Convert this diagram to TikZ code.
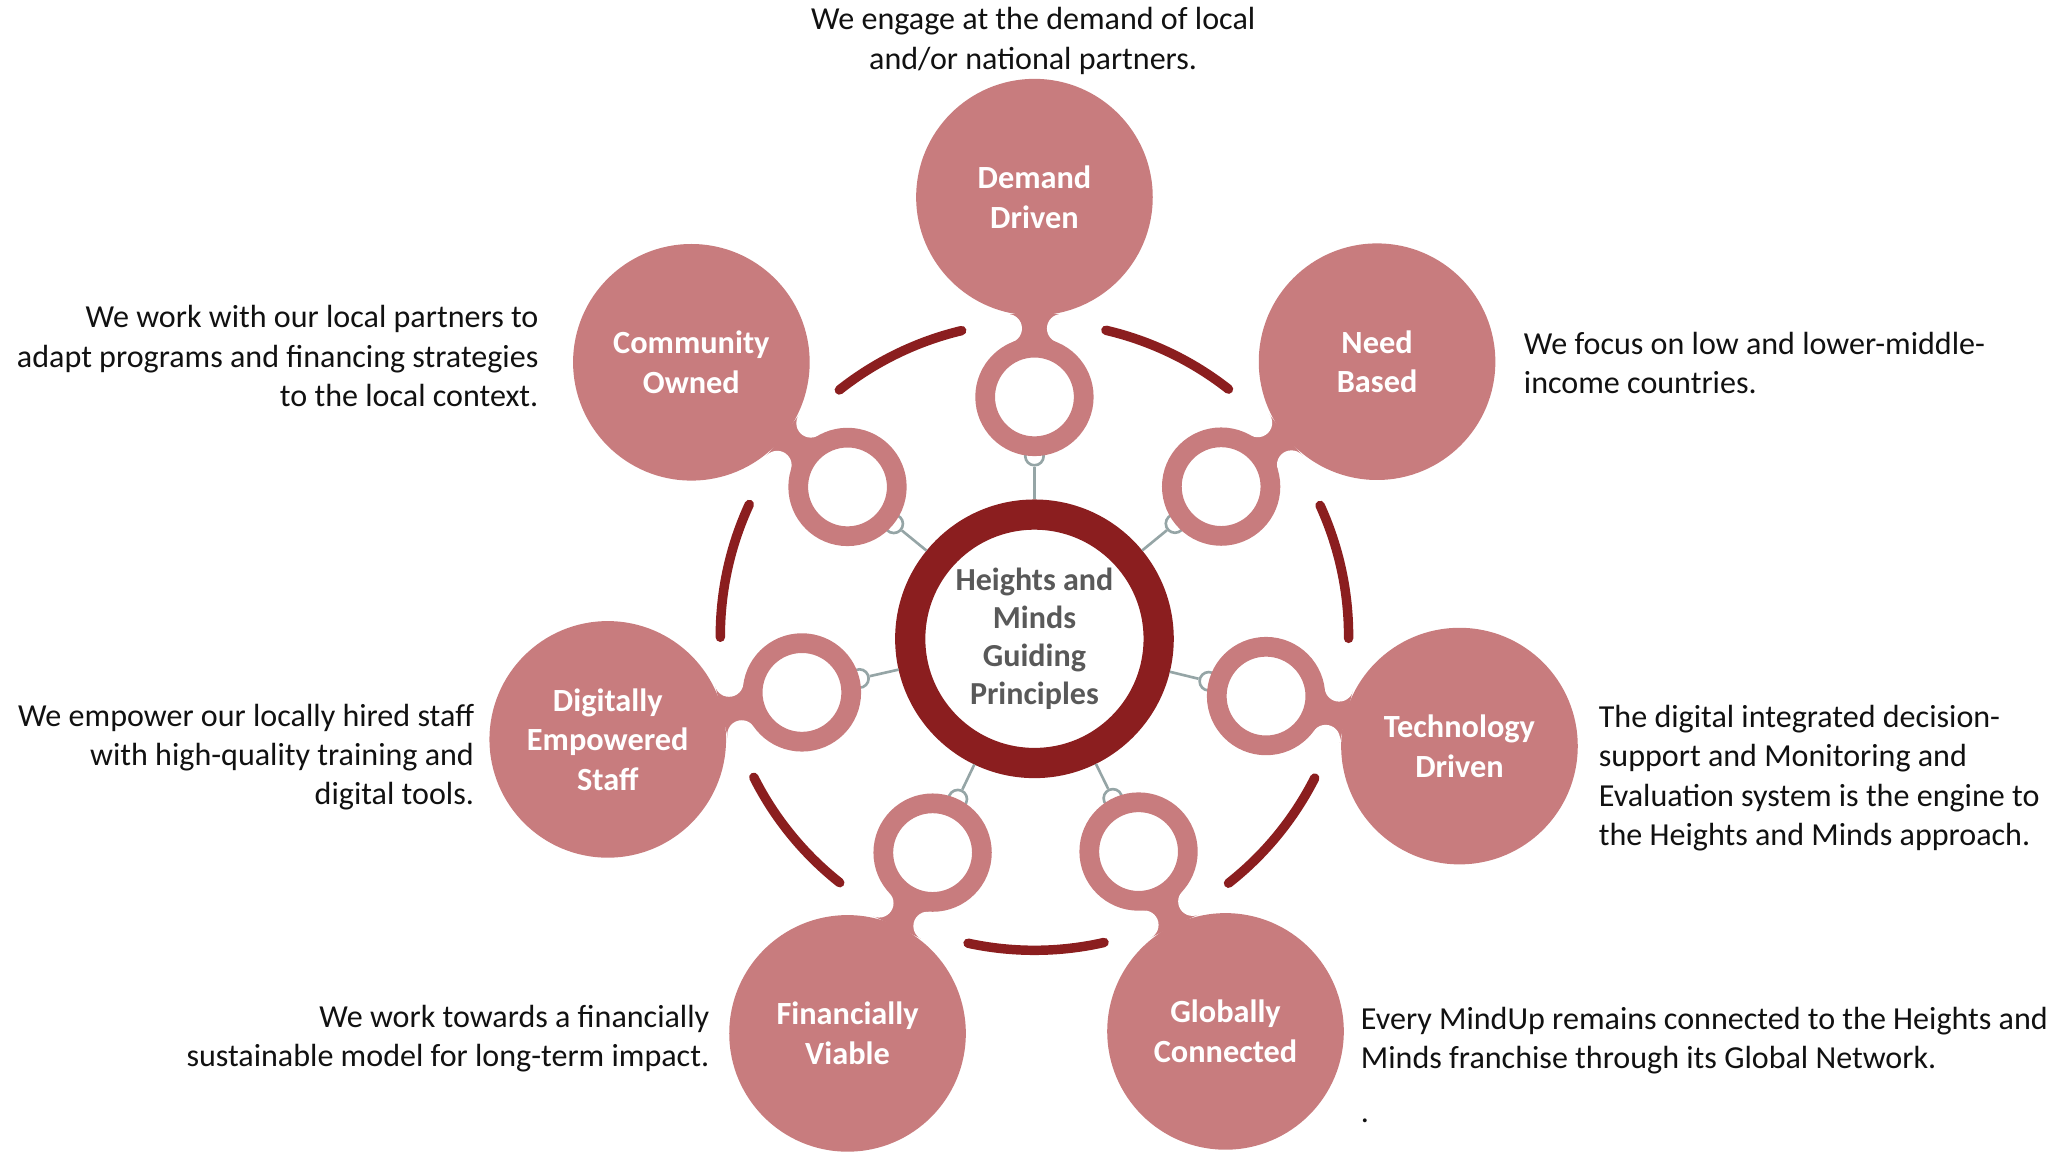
\documentclass[tikz,border=0pt]{standalone}
\usepackage{fontspec}
\setmainfont{Carlito}
\usetikzlibrary{calc}
\definecolor{petal}{HTML}{C87C7E}
\definecolor{darkred}{HTML}{8B1E1F}
\definecolor{conn}{HTML}{95A5A6}
\definecolor{centertext}{HTML}{595959}
\definecolor{desctext}{HTML}{111111}
\begin{document}
\begin{tikzpicture}[x=0.5pt,y=-0.5pt,
  bigc/.style={circle, fill=petal, minimum size=90pt, inner sep=0pt, text=white,
    font=\fontsize{12.3}{15}\selectfont\bfseries, align=center},
  ringc/.style={circle, draw=petal, line width=7.5pt, minimum size=37.5pt, inner sep=0pt},
  neckfill/.style={fill=petal},
  filletfill/.style={fill=white},
  desc/.style={font=\fontsize{12.2}{15}\selectfont, text=desctext, inner sep=0pt},
  arcline/.style={draw=darkred, line width=3.6pt, line cap=round},
  connline/.style={draw=conn, line width=1pt},
  conncirc/.style={circle, draw=conn, fill=white, line width=1pt, minimum size=7pt, inner sep=0pt},
  hub/.style={circle, draw=darkred, line width=11.5pt, minimum size=94.5pt, inner sep=0pt,
    text=centertext, font=\fontsize{12.2}{14.4}\selectfont\bfseries, align=center}
]
\useasboundingbox (0,0) rectangle (1568,876);
\coordinate (C) at (787,484);
\node[hub] (hub) at ($(C)+(0,2)$) {Heights and\\Minds\\Guiding\\Principles};

% ring of arcs
\foreach \m [count=\i] in {-64.35,-12.1,39.35,89.7,140.8,192.3,244.1}{
  \draw[arcline] ($(C)+(\m-12.5:239)$) arc[start angle=\m-12.5, end angle=\m+12.5, radius=239];
}

% petals
\foreach \name/\a/\lbl in {dem/-90/{Demand\\Driven}, need/-38.7/{Need\\Based},
   tech/14.5/{Technology\\Driven}, glob/64.2/{Globally\\Connected},
   fin/115.2/{Financially\\Viable}, dig/166.4/{Digitally\\Empowered\\Staff},
   com/218.6/{Community\\Owned}}{
  \coordinate (r-\name) at ($(C)+(\a:182)$);
  \node[conncirc] (k-\name) at ($(C)+(\a:137)$) {};
  \draw[connline] (hub) -- (k-\name);
  \fill[neckfill] ($(r-\name)+(\a:41.9)+(\a+90:20.5)$) -- ($(r-\name)+(\a:62.9)+(\a+90:20.5)$)
     -- ($(r-\name)+(\a:62.9)+(\a-90:20.5)$) -- ($(r-\name)+(\a:41.9)+(\a-90:20.5)$) -- cycle;
  \fill[filletfill] ($(r-\name)+(\a:52.1)+(\a+90:20.5)$) circle[radius=11];
  \fill[filletfill] ($(r-\name)+(\a:52.1)+(\a-90:20.5)$) circle[radius=11];
  \node[bigc] (b-\name) at ($(C)+(\a:334)$) {\lbl};
  \node[ringc] (g-\name) at (r-\name) {};
}

% descriptions
\node[desc, align=center] (d-dem) at (786,31) {We engage at the demand of local\\and/or national partners.};
\node[desc, align=left, anchor=west] (d-need) at (1159,276) {We focus on low and lower-middle-\\income countries.};
\node[desc, align=left, anchor=west] (d-tech) at (1216,592) {The digital integrated decision-\\support and Monitoring and\\Evaluation system is the engine to\\the Heights and Minds approach.};
\node[desc, align=left, anchor=west] (d-glob) at (1035,810) {Every MindUp remains connected to the Heights and\\Minds franchise through its Global Network.\\[5.5pt].};
\node[desc, align=right, anchor=east] (d-fin) at (540,790) {We work towards a financially\\sustainable model for long-term impact.};
\node[desc, align=right, anchor=east] (d-dig) at (361,576) {We empower our locally hired staff\\with high-quality training and\\digital tools.};
\node[desc, align=right, anchor=east] (d-com) at (410,271) {We work with our local partners to\\adapt programs and financing strategies\\to the local context.};
\end{tikzpicture}
\end{document}
